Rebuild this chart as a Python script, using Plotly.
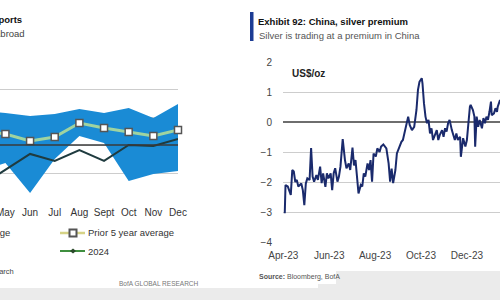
import plotly.graph_objects as go

W, H = 500, 300
FONT = "Liberation Sans, Arial"

# ---------------- left panel data (monthly) ----------------
months = [4, 5, 6, 7, 8, 9, 10, 11, 12]
month_labels = ["Apr", "May", "Jun", "Jul", "Aug", "Sept", "Oct", "Nov", "Dec"]
range_high = [24.0, 22.9, 20.7, 22.1, 25.7, 22.9, 26.4, 19.3, 29.3]
range_low = [-18.6, -12.9, -34.3, -10.0, 6.4, 1.4, -25.7, -20.7, -18.6]
prior_avg = [10.0, 7.9, 2.9, 5.7, 15.7, 12.1, 9.3, 6.4, 10.7]
y2024 = [-29.0, -17.6, -6.4, -11.4, -3.6, -11.4, 0.0, -0.7, 4.3]

# ---------------- right panel data (daily premium, US$/oz) ----------------
prem_dates = [
    "2023-04-03", "2023-04-04", "2023-04-07", "2023-04-09", "2023-04-11", "2023-04-13",
    "2023-04-15", "2023-04-17", "2023-04-19", "2023-04-21", "2023-04-25", "2023-04-27",
    "2023-04-29", "2023-05-01", "2023-05-03", "2023-05-06", "2023-05-08", "2023-05-10",
    "2023-05-12", "2023-05-15", "2023-05-17", "2023-05-20", "2023-05-22", "2023-05-24",
    "2023-05-27", "2023-05-29", "2023-05-31", "2023-06-03", "2023-06-05", "2023-06-07",
    "2023-06-09", "2023-06-12", "2023-06-14", "2023-06-16", "2023-06-19", "2023-06-22",
    "2023-06-24", "2023-06-27", "2023-06-29", "2023-07-02", "2023-07-04", "2023-07-06",
    "2023-07-08", "2023-07-10", "2023-07-13", "2023-07-15", "2023-07-17", "2023-07-19",
    "2023-07-22", "2023-07-24", "2023-07-26", "2023-07-28", "2023-07-30", "2023-08-02",
    "2023-08-04", "2023-08-07", "2023-08-09", "2023-08-12", "2023-08-16", "2023-08-19",
    "2023-08-21", "2023-08-23", "2023-08-25", "2023-08-28", "2023-08-30", "2023-09-02",
    "2023-09-05", "2023-09-07", "2023-09-09", "2023-09-12", "2023-09-14", "2023-09-16",
    "2023-09-19", "2023-09-22", "2023-09-25", "2023-09-27", "2023-09-29", "2023-10-02",
    "2023-10-03", "2023-10-05", "2023-10-07", "2023-10-09", "2023-10-11", "2023-10-13",
    "2023-10-15", "2023-10-17", "2023-10-20", "2023-10-22", "2023-10-24", "2023-10-26",
    "2023-10-29", "2023-10-31", "2023-11-02", "2023-11-04", "2023-11-06", "2023-11-08",
    "2023-11-11", "2023-11-13", "2023-11-15", "2023-11-17", "2023-11-19", "2023-11-22",
    "2023-11-23", "2023-11-26", "2023-11-29", "2023-12-01", "2023-12-03", "2023-12-05",
    "2023-12-06", "2023-12-09", "2023-12-11", "2023-12-12", "2023-12-14", "2023-12-16",
    "2023-12-18", "2023-12-21", "2023-12-23", "2023-12-25", "2023-12-27", "2023-12-29",
    "2023-12-31", "2024-01-02", "2024-01-03", "2024-01-06", "2024-01-08", "2024-01-10",
    "2024-01-11", "2024-01-14", "2024-01-16",
]
prem_values = [
    -3.04, -2.10, -2.15, -2.30, -2.43, -1.60,
    -1.65, -2.00, -1.93, -2.15, -2.05, -2.27,
    -2.77, -2.05, -1.88, -1.93, -0.87, -1.82,
    -1.99, -1.77, -1.93, -1.49, -2.04, -1.71,
    -2.16, -1.71, -1.88, -1.71, -2.27, -1.71,
    -1.54, -1.99, -1.82, -1.49, -0.57, -1.27,
    -1.54, -1.38, -1.60, -0.85, -1.45, -1.27,
    -1.82, -2.38, -2.10, -2.15, -1.71, -1.82,
    -1.38, -1.60, -1.27, -1.99, -1.05, -1.15,
    -0.88, -1.00, -0.82, -0.75, -0.88, -1.38,
    -1.99, -1.55, -2.04, -1.60, -1.05, -0.82,
    -0.66, -0.60, -0.38, -0.10, 0.18, -0.10,
    -0.27, -0.16, 0.40, 1.07, 1.34, 1.46,
    1.29, 0.62, 0.18, -0.04, 0.07, -0.38,
    -0.21, -0.60, -0.38, -0.27, -0.60, -0.43,
    -0.27, -0.49, -0.21, -0.32, -0.04, 0.07,
    -0.27, -0.49, -0.60, -0.38, -0.60, -0.49,
    -1.16, -0.54, -0.82, -0.60, 0.07, 0.51,
    0.57, 0.40, 0.18, -0.82, 0.18, -0.16,
    0.07, -0.21, 0.13, -0.04, 0.18, 0.07,
    0.34, 0.68, 0.23, 0.29, 0.46, 0.34,
    0.51, 0.73, 0.60,
]
prem_ticks = ["2023-04-01", "2023-06-01", "2023-08-01", "2023-10-01", "2023-12-01"]
prem_ticktext = ["Apr-23", "Jun-23", "Aug-23", "Oct-23", "Dec-23"]


def px(x):
    return x / W


def py(y):
    return 1 - y / H


BAND = "#1a8bd5"
AVG_LINE = "#9fd3a0"
LINE24 = "#1f3b3f"
NAVY = "#1a2a6c"

fig = go.Figure()

# left panel
fig.add_trace(go.Scatter(x=months, y=range_low, mode="lines", line=dict(width=0, color=BAND),
                         showlegend=False, hoverinfo="skip", xaxis="x", yaxis="y"))
fig.add_trace(go.Scatter(x=months, y=range_high, mode="lines", line=dict(width=0, color=BAND),
                         fill="tonexty", fillcolor=BAND, showlegend=False, xaxis="x", yaxis="y"))
fig.add_trace(go.Scatter(x=months, y=y2024, mode="lines", line=dict(width=2, color=LINE24),
                         showlegend=False, xaxis="x", yaxis="y"))
fig.add_trace(go.Scatter(x=months, y=prior_avg, mode="lines+markers",
                         line=dict(width=3, color=AVG_LINE),
                         marker=dict(symbol="square", size=7, color="white",
                                     line=dict(color="#555555", width=1.5)),
                         showlegend=False, xaxis="x", yaxis="y", cliponaxis=False))

# right panel
fig.add_trace(go.Scatter(x=prem_dates, y=prem_values, mode="lines",
                         line=dict(width=2, color=NAVY), showlegend=False,
                         xaxis="x2", yaxis="y2"))

grid = "#cdcdcd"
fig.update_layout(
    width=W, height=H, margin=dict(l=0, r=0, t=0, b=0, pad=0, autoexpand=False),
    paper_bgcolor="white", plot_bgcolor="white",
    font=dict(family=FONT, color="#444444", size=10),
    xaxis=dict(domain=[0, px(178)], range=[4.78, 12.0], tickvals=months, ticktext=month_labels,
               showgrid=False, zeroline=False, showline=False, ticks="", automargin=False,
               ticklabelstandoff=4, ticklabeloverflow="allow",
               tickfont=dict(size=10, color="#333333"), fixedrange=True),
    yaxis=dict(domain=[py(201), py(61)], range=[-40, 60], dtick=20, showgrid=True,
               gridcolor=grid, gridwidth=1, zeroline=False, showticklabels=False,
               showline=False, automargin=False),
    xaxis2=dict(domain=[px(283), 1], range=["2023-03-31 16:00", "2024-01-14"],
                tickvals=prem_ticks, ticktext=prem_ticktext, showgrid=False,
                zeroline=False, showline=False, ticks="", anchor="y2", automargin=False,
                ticklabelstandoff=6, ticklabeloverflow="allow",
                tickfont=dict(size=10, color="#444444")),
    yaxis2=dict(domain=[py(242), py(62)], range=[-4, 2], dtick=1, showgrid=True,
                gridcolor=grid, gridwidth=1, zeroline=True, zerolinecolor="#6e6e6e",
                zerolinewidth=1.5, anchor="x2", ticklabelstandoff=10, automargin=False,
                tickfont=dict(size=10, color="#444444")),
)

shapes = []
# dark zero line on the left panel, drawn above the band
shapes.append(dict(type="line", xref="x domain", yref="y", x0=0, x1=1, y0=0, y1=0,
                   line=dict(color="#3a3a3a", width=1.5), layer="above"))
# blue title marker bar (right panel)
shapes.append(dict(type="rect", xref="paper", yref="paper", x0=px(250), x1=px(253.5),
                   y0=py(41), y1=py(12), fillcolor="#1c3c94", line=dict(width=0)))
# legend glyphs (left panel)
shapes.append(dict(type="line", xref="paper", yref="paper", x0=px(60), x1=px(85),
                   y0=py(233), y1=py(233), line=dict(color="#d6d386", width=2.5)))
shapes.append(dict(type="rect", xref="paper", yref="paper", x0=px(69.5), x1=px(76.5),
                   y0=py(236.5), y1=py(229.5), fillcolor="white",
                   line=dict(color="#555555", width=2)))
shapes.append(dict(type="line", xref="paper", yref="paper", x0=px(60), x1=px(85),
                   y0=py(251), y1=py(251), line=dict(color="#3f8f3f", width=2)))
shapes.append(dict(type="path", xref="paper", yref="paper",
                   path=f"M {px(70)} {py(251)} L {px(73)} {py(248.5)} L {px(76)} {py(251)} L {px(73)} {py(253.5)} Z",
                   fillcolor="#2a4a2a", line=dict(width=0)))
# dotted watermark strip at the bottom
shapes.append(dict(type="path", xref="paper", yref="paper",
                   path=(f"M 0 {py(288)} L {px(318)} {py(288)} L {px(318)} {py(284)} "
                         f"L {px(336)} {py(284)} L {px(336)} {py(271)} L 1 {py(271)} "
                         f"L 1 0 L 0 0 Z"),
                   fillcolor="#ebebeb", line=dict(width=0), layer="below"))
fig.update_layout(shapes=shapes)

ann = []


def text(x, y, s, size=10, color="#333333", bold=False, xanchor="left", yanchor="middle"):
    ann.append(dict(x=px(x), y=py(y), xref="paper", yref="paper", showarrow=False,
                    text=(f"<b>{s}</b>" if bold else s), xanchor=xanchor, yanchor=yanchor,
                    borderpad=0, font=dict(size=size, color=color, family=FONT)))


# left panel texts (cut off at the page edge, as in the source image)
text(23, 20, "Exhibit 91: China, silver exports", size=9.5, color="#111111", bold=True, xanchor="right")
text(26, 34, "Silver exports going abroad", size=9.5, color="#444444", xanchor="right")
text(11, 233, "5 year range", size=9.5, color="#333333", xanchor="right")
text(87, 233, "Prior 5 year average", size=9.5, color="#333333")
text(87, 251, "2024", size=9.5, color="#333333")
text(15, 271, "Source: BofA Global Research", size=7.5, color="#444444", xanchor="right")
text(118, 283, "BofA GLOBAL RESEARCH", size=6.5, color="#777777")

# right panel texts
text(257, 21, "Exhibit 92: China, silver premium", size=9.5, color="#111111", bold=True)
text(258, 35, "Silver is trading at a premium in China", size=9.5, color="#555555")
text(291, 73, "US$/oz", size=10, color="#222222", bold=True)
text(258, 277, "<b>Source:</b> Bloomberg, BofA", size=7, color="#555555")

fig.update_layout(annotations=ann)

fig.write_html("out.html")
